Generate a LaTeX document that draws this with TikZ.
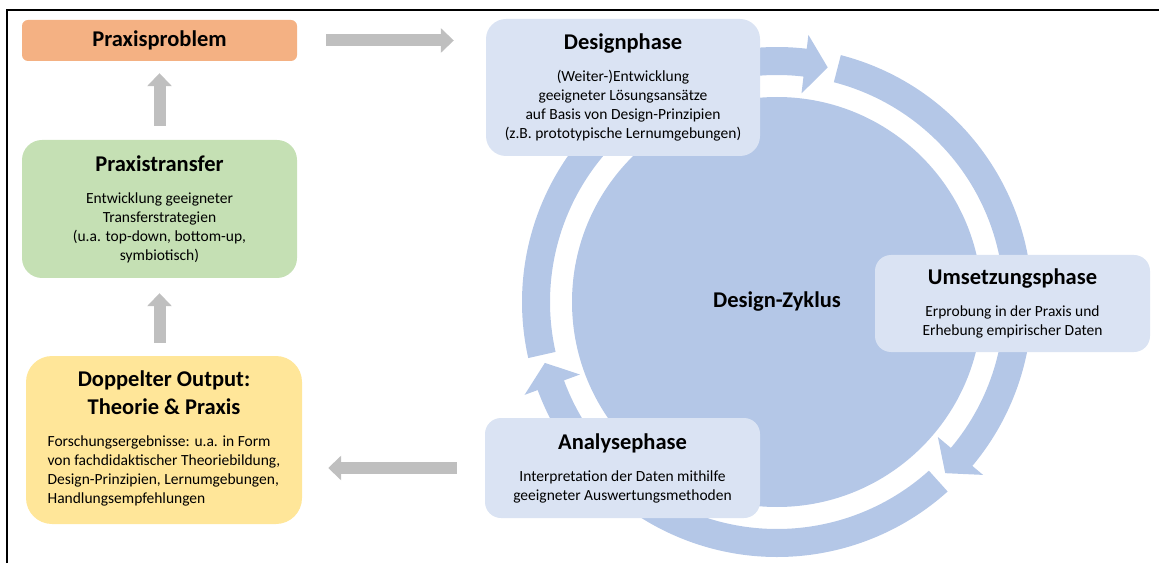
\documentclass[tikz,border=0pt]{standalone}
\usepackage{fontspec}
\setmainfont{Carlito}
\usepackage{tikz}
\usetikzlibrary{arrows.meta, positioning, calc}

\definecolor{problemorange}{HTML}{F4B183}
\definecolor{transfergreen}{HTML}{C5E0B4}
\definecolor{outputyellow}{HTML}{FFE699}
\definecolor{phaseblue}{HTML}{DAE3F3}
\definecolor{cycleblue}{HTML}{B4C7E7}
\definecolor{arrowgray}{HTML}{BFBFBF}

\newcommand{\boxtitle}[1]{{\fontsize{22.5}{26}\selectfont\bfseries #1}}
% one piece of the ring: start angle, angle of the head's base, angle of the tip
\newcommand{\cyclearrow}[3]{%
  \fill[cycleblue, shift={(zyklus.center)}]
    (#1:255pt) arc[start angle=#1, end angle=#2, radius=255pt]
    -- (#2:269pt) -- (#3:240pt) -- (#2:210pt) -- (#2:227pt)
    arc[start angle=#2, end angle=#1, radius=227pt] -- cycle;}

\begin{document}
\begin{tikzpicture}[x=1pt, y=1pt, font=\fontsize{15.5}{19}\selectfont,
  card/.style={rounded corners=18pt, align=center, inner sep=0pt, minimum width=275pt},
  phase/.style={card, fill=phaseblue, rounded corners=16pt},
  ga/.style={-{Triangle[length=13pt, width=24pt]}, line width=12pt, draw=arrowgray}]
  \useasboundingbox (0,0) rectangle (1159,563);
  \draw[line width=2pt] (7,0) -- (7,553) -- (1159,553);
  % ---- left column: problem, transfer, output
  \node[card, fill=problemorange, minimum height=41pt, rounded corners=6pt] (problem) at (159.5,522.5)
    {\boxtitle{Praxisproblem}};
  \node[card, fill=transfergreen, minimum height=138pt, rounded corners=20pt] (transfer) at (159.5,354)
    {\boxtitle{Praxistransfer}\\[13pt] Entwicklung geeigneter\\ Transferstrategien\\
     (u.a. top-down, bottom-up,\\ symbiotisch)};
  \node[card, fill=outputyellow, minimum width=276pt, minimum height=168pt, rounded corners=26pt] (output) at (164,123)
    {\boxtitle{Doppelter Output:}\\[8pt] \boxtitle{Theorie \& Praxis}\\[13pt]
     \begin{tabular}[t]{@{}l@{}}
       Forschungsergebnisse: u.a. in Form\\ von fachdidaktischer Theoriebildung,\\
       Design-Prinzipien, Lernumgebungen,\\ Handlungsempfehlungen
     \end{tabular}};
  % ---- the design cycle: disc, three ring arrows, the phases on top
  \node[circle, fill=cycleblue, minimum size=410pt, inner sep=0pt] (zyklus) at (777,261)
    {\boxtitle{Design-Zyklus}};
  \cyclearrow{192.7}{83.3}{77.8}
  \cyclearrow{75.5}{-40}{-45.5}
  \cyclearrow{-48}{-159.8}{-165.3}
  \node[phase, minimum width=274pt, minimum height=137pt, rounded corners=20pt] (design) at (623,475.5)
    {\boxtitle{Designphase}\\[13pt] (Weiter-)Entwicklung\\ geeigneter Lösungsansätze\\
     auf Basis von Design-Prinzipien\\ (z.B. prototypische Lernumgebungen)};
  \node[phase, minimum height=97pt] (umsetzung) at (1012.5,259.5)
    {\boxtitle{Umsetzungsphase}\\[13pt] Erprobung in der Praxis und\\ Erhebung empirischer Daten};
  \node[phase, minimum height=100pt] (analyse) at (622.5,95)
    {\boxtitle{Analysephase}\\[13pt] Interpretation der Daten mithilfe\\ geeigneter Auswertungsmethoden};
  % ---- gray block arrows
  \draw[ga] ([xshift=29pt]problem.east) -- ([xshift=-32pt]problem.east -| design.west);
  \draw[ga] ([xshift=-28pt]analyse.west) -- ([xshift=26pt]analyse.west -| output.east);
  \draw[ga] ([yshift=14pt]transfer.north) -- ([yshift=-12pt]problem.south);
  \draw[ga] ([yshift=13pt]output.north -| transfer.south) -- ([yshift=-15pt]transfer.south);
\end{tikzpicture}
\end{document}
